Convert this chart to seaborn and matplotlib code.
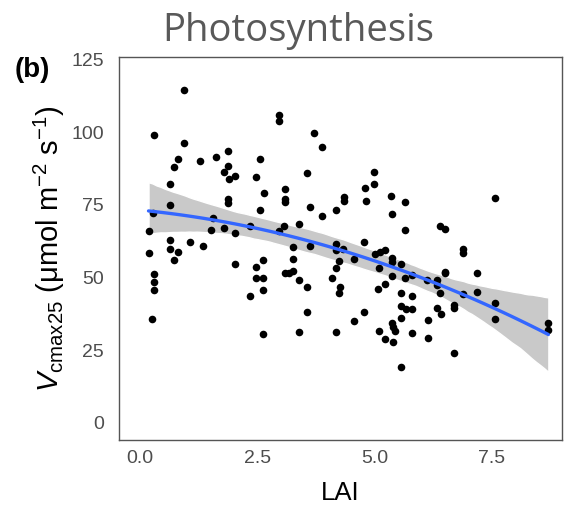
import numpy as np
import pandas as pd
import matplotlib
matplotlib.use("Agg")
import matplotlib.pyplot as plt
import seaborn as sns

lai = [0.94, 0.30, 0.94, 0.80, 0.73, 1.28, 1.63, 1.87, 1.87, 1.78, 1.90, 2.03, 2.55, 2.47, 2.65,
       0.64, 0.64, 0.28, 1.88, 1.87, 2.55, 1.55, 0.18, 1.52, 1.78, 2.03, 2.35,
       0.64, 0.64, 0.80, 1.07, 1.34, 0.18, 0.73, 0.30, 0.30, 0.30, 0.25, 2.03, 2.47, 2.63,
       2.47, 2.63, 2.63, 2.35, 2.63,
       2.96, 2.96, 3.71, 3.89, 3.57, 5.00, 5.00, 4.79, 4.82, 3.09, 3.09, 3.09, 4.34, 4.34,
       5.36, 5.66, 5.37, 5.66, 3.62, 3.89, 4.17, 3.38, 3.08, 2.96,
       7.57, 6.40, 6.50,
       3.26, 3.62, 3.26, 3.09, 3.26, 3.17, 3.38, 3.57, 3.57, 3.38, 4.19, 4.17, 4.32, 4.24,
       4.19, 4.10, 4.26, 4.24, 4.17, 4.78, 4.57, 4.78, 4.56, 5.01, 5.12, 5.22, 5.09, 5.22,
       5.08, 5.37, 5.37, 5.56, 5.37, 5.66, 5.79, 5.56, 5.79, 5.56, 5.67, 5.79, 5.56, 5.37,
       5.40, 5.44, 5.09, 5.22, 5.40, 5.79, 5.56, 6.50,
       6.89, 6.89, 6.50, 7.19, 6.13, 6.33, 6.33, 6.40, 6.89, 7.19, 7.57, 7.57, 6.70, 6.70,
       6.33, 6.42, 6.15, 6.15, 6.70, 8.71, 8.71]

vcmax = [114.6, 99.1, 96.4, 90.9, 88.2, 90.0, 91.4, 93.5, 88.6, 86.3, 84.1, 85.0, 90.9, 84.6, 79.0,
         82.2, 75.0, 72.1, 77.2, 75.6, 73.3, 70.5, 66.0, 66.4, 67.1, 65.5, 67.6,
         62.8, 60.0, 58.8, 62.1, 61.0, 58.4, 56.1, 51.3, 48.5, 45.6, 35.8, 54.8, 53.7, 56.0,
         50.0, 50.0, 45.8, 43.7, 30.6,
         106.1, 104.1, 99.9, 94.9, 85.9, 86.2, 82.1, 81.0, 76.3, 80.6, 77.0, 76.0, 77.9, 76.3,
         78.1, 75.9, 72.0, 66.3, 74.3, 71.3, 73.2, 68.6, 67.8, 66.1,
         77.4, 67.8, 66.9,
         60.4, 60.8, 56.4, 51.6, 52.2, 51.6, 49.2, 46.6, 38.1, 31.4, 61.7, 59.6, 60.0, 55.7,
         53.3, 49.7, 46.6, 44.6, 31.2, 62.3, 56.4, 38.1, 35.2, 58.0, 58.8, 59.4, 53.3, 47.7,
         46.2, 56.9, 55.2, 54.6, 50.5, 49.9, 51.0, 44.6, 43.8, 40.3, 39.1, 39.1, 35.9, 34.5,
         33.0, 31.6, 31.5, 28.8, 27.9, 30.8, 19.2, 52.0,
         60.0, 58.5, 51.7, 51.4, 49.3, 49.3, 47.4, 44.7, 44.5, 45.0, 41.3, 35.7, 40.5, 39.4,
         39.6, 37.5, 35.3, 29.0, 24.1, 34.4, 31.8]

x_ticks = [0.0, 2.5, 5.0, 7.5]
x_tick_labels = ["0.0", "2.5", "5.0", "7.5"]
y_ticks = [0, 25, 50, 75, 100, 125]
y_tick_labels = ["0", "25", "50", "75", "100", "125"]

df = pd.DataFrame({"LAI": lai, "Vcmax25": vcmax})

sns.set_style("white")
plt.rcParams['font.family'] = ['Liberation Sans', 'DejaVu Sans']
plt.rcParams['mathtext.fontset'] = 'custom'
plt.rcParams['mathtext.rm'] = 'Liberation Sans'
plt.rcParams['mathtext.it'] = 'Liberation Sans:italic'

fig = plt.figure(figsize=(5.72, 5.07), dpi=100)
ax = fig.add_axes([0.208, 0.132, 0.7745, 0.7556])

sns.regplot(data=df, x="LAI", y="Vcmax25", order=2, ci=95, ax=ax,
            scatter_kws=dict(s=30, color="black", linewidths=0, alpha=1, zorder=3),
            line_kws=dict(color="#3366FF", lw=2.4, zorder=4), truncate=True)
for poly in ax.collections[1:]:
    poly.set_facecolor("#c9c9c9")
    poly.set_alpha(1)
    poly.set_zorder(1)

ax.set_xlim(-0.45, 9.0)
ax.set_ylim(-6, 126)
ax.set_xticks(x_ticks)
ax.set_xticklabels(x_tick_labels)
ax.set_yticks(y_ticks)
ax.set_yticklabels(y_tick_labels)
ax.tick_params(axis="both", direction="out", length=4, width=1, color="#555555",
               labelcolor="#4d4d4d", labelsize=14)
ax.tick_params(axis="x", pad=3.5)
ax.tick_params(axis="y", pad=7)
for s in ax.spines.values():
    s.set_visible(True)
    s.set_color("#555555")
    s.set_linewidth(1.0)

ax.set_xlabel("LAI", fontsize=18.5, color="black", labelpad=10)
ax.set_ylabel(r"$V_{\mathrm{cmax25}}$ (μmol m$^{-2}$ s$^{-1}$)", fontsize=21,
              color="black", labelpad=3)

fig.text(0.521, 0.939, "Photosynthesis", ha="center", va="center", fontsize=27.5,
         color="#595959", family=["Open Sans", "DejaVu Sans"])
fig.text(0.026, 0.862, "(b)", ha="left", va="center", fontsize=20, fontweight="bold",
         color="black")

fig.savefig("out.png", dpi=100)
